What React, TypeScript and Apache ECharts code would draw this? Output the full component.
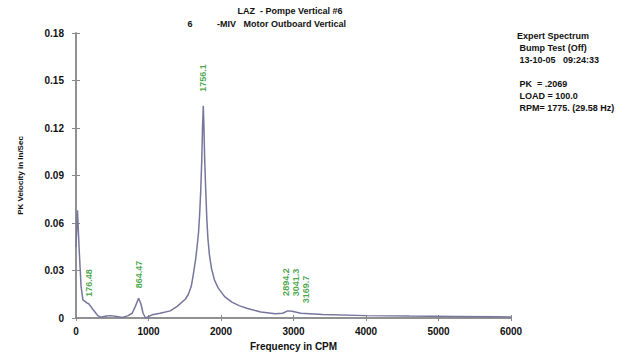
import React, { useEffect, useRef } from "react";
import * as echarts from "echarts";

// Spectrum data (frequency in CPM, PK velocity in In/Sec)
const freqCPM = [
  0, 20, 45, 70, 95, 150, 176, 240, 300, 340, 420, 480, 560, 640, 720, 775, 820, 864, 895, 925, 960,
  1050, 1160, 1300, 1400, 1510, 1550, 1590, 1620, 1650, 1670, 1690, 1705, 1720, 1735, 1745, 1756,
  1765, 1775, 1790, 1805, 1820, 1840, 1870, 1910, 1960, 2050, 2150, 2250, 2365, 2550, 2750, 2850,
  2920, 2980, 3100, 3400, 4000, 4600, 5200, 5800, 6000,
];
const velocity = [
  0.045, 0.068, 0.042, 0.02, 0.0115, 0.0095, 0.009, 0.005, 0.0015, 0.0005, 0.0012, 0.0015, 0.001,
  0.0003, 0.0015, 0.003, 0.0075, 0.0125, 0.009, 0.003, 0.0, 0.002, 0.003, 0.0045, 0.0075, 0.012,
  0.015, 0.02, 0.028, 0.037, 0.045, 0.054, 0.065, 0.08, 0.1, 0.12, 0.134,
  0.12, 0.1, 0.08, 0.062, 0.05, 0.04, 0.031, 0.024, 0.019, 0.0135, 0.01, 0.0078, 0.006, 0.0038,
  0.0027, 0.003, 0.0045, 0.0042, 0.003, 0.0022, 0.0015, 0.0012, 0.001, 0.0008, 0.0006,
];

// Labelled peaks
const peakFreq = [176.48, 864.47, 1756.1, 2894.2, 3041.3, 3169.7];
const peakVel = [0.009, 0.0125, 0.134, 0.0045, 0.0042, 0.003];
const peakLabels = ["176.48", "864.47", "1756.1", "2894.2", "3041.3", "3169.7"];

// Axis ticks
const xTicks = [0, 1000, 2000, 3000, 4000, 5000, 6000];
const yTicks = [0, 0.03, 0.06, 0.09, 0.12, 0.15, 0.18];

// Header / info texts
const titleLine1 = "LAZ  - Pompe Vertical #6";
const titleNum = "6";
const titleLine2 = "-MIV   Motor Outboard Vertical";
const infoLines = ["Expert Spectrum", " Bump Test (Off)", " 13-10-05   09:24:33", "", " PK  = .2069", " LOAD = 100.0", " RPM= 1775. (29.58 Hz)"];

// style-only constants
const labelGaps = [7, 10, 14, 15, 15, 10];
const FONT = '"Liberation Sans", Arial, sans-serif';
const AXIS_COLOR = "#8a8a8a";
const LINE_COLOR = "#76769c";
const GREEN = "#1a8f1a";

export default function App() {
  const ref = useRef<HTMLDivElement>(null);

  useEffect(() => {
    if (!ref.current) return;
    const chart = echarts.init(ref.current, undefined, { renderer: "svg" });

    const axisLine = { show: true, lineStyle: { color: AXIS_COLOR, width: 1.5 } };
    const tickStyle = { lineStyle: { color: AXIS_COLOR, width: 1 } };

    const option: any = {
      animation: false,
      backgroundColor: "#ffffff",
      grid: { left: 76, right: 125, top: 33, bottom: 34 },
      xAxis: [
        {
          type: "value",
          min: xTicks[0],
          max: xTicks[xTicks.length - 1],
          interval: xTicks[1] - xTicks[0],
          position: "bottom",
          name: "Frequency in CPM",
          nameLocation: "middle",
          nameGap: 23,
          nameTextStyle: { fontFamily: FONT, fontWeight: "bold", fontSize: 10, color: "#111" },
          axisLine,
          axisTick: { show: true, inside: true, length: 3, ...tickStyle },
          axisLabel: {
            fontFamily: FONT,
            fontWeight: "bold",
            fontSize: 10,
            color: "#111",
            margin: 8,
            formatter: (v: number) => String(v),
          },
          splitLine: { show: false },
        },
        {
          type: "value",
          min: xTicks[0],
          max: xTicks[xTicks.length - 1],
          interval: xTicks[1] - xTicks[0],
          position: "top",
          axisLine,
          axisTick: { show: true, inside: true, length: 3, ...tickStyle },
          axisLabel: { show: false },
          splitLine: { show: false },
        },
      ],
      yAxis: [
        {
          type: "value",
          min: yTicks[0],
          max: yTicks[yTicks.length - 1],
          interval: yTicks[1] - yTicks[0],
          position: "left",
          name: "PK Velocity in In/Sec",
          nameLocation: "middle",
          nameGap: 52,
          nameTextStyle: { fontFamily: FONT, fontWeight: "bold", fontSize: 8, color: "#111" },
          axisLine,
          axisTick: { show: true, inside: false, length: 4, ...tickStyle },
          axisLabel: {
            fontFamily: FONT,
            fontWeight: "bold",
            fontSize: 10,
            color: "#111",
            margin: 12,
            formatter: (v: number) => (v === 0 ? "0" : v.toFixed(2)),
          },
          splitLine: { show: false },
        },
        {
          type: "value",
          min: yTicks[0],
          max: yTicks[yTicks.length - 1],
          interval: yTicks[1] - yTicks[0],
          position: "right",
          axisLine,
          axisTick: { show: true, inside: false, length: 4, ...tickStyle },
          axisLabel: { show: false },
          splitLine: { show: false },
        },
      ],
      series: [
        {
          type: "line",
          data: freqCPM.map((f, i) => [f, velocity[i]]),
          showSymbol: false,
          symbol: "none",
          lineStyle: { color: LINE_COLOR, width: 1.5 },
          z: 3,
        },
        {
          type: "scatter",
          symbolSize: 0,
          data: peakFreq.map((f, i) => ({
            value: [f, peakVel[i]],
            label: {
              show: true,
              formatter: peakLabels[i],
              position: "top",
              distance: labelGaps[i],
              rotate: 90,
              align: "left",
              verticalAlign: "middle",
              fontFamily: FONT,
              fontWeight: "bold",
              fontSize: 9,
              color: GREEN,
            },
          })),
          z: 4,
        },
      ],
      graphic: [
        {
          type: "text",
          x: 290,
          y: 11,
          style: { text: titleLine1, font: `bold 9px ${FONT}`, fill: "#111", textAlign: "center", textVerticalAlign: "middle" },
        },
        {
          type: "text",
          x: 190,
          y: 24,
          style: { text: titleNum, font: `bold 9px ${FONT}`, fill: "#111", textAlign: "center", textVerticalAlign: "middle" },
        },
        {
          type: "text",
          x: 217,
          y: 24,
          style: { text: titleLine2, font: `bold 9px ${FONT}`, fill: "#111", textAlign: "left", textVerticalAlign: "middle" },
        },
        ...infoLines.map((t, i) => ({
          type: "text",
          x: 517,
          y: 36 + i * 12,
          style: { text: t, font: `bold 9px ${FONT}`, fill: "#111", textAlign: "left", textVerticalAlign: "middle" },
        })),
      ],
    };

    chart.setOption(option);
    return () => chart.dispose();
  }, []);

  return (
    <div
      ref={ref}
      style={{ position: "absolute", left: 0, top: 0, width: 636, height: 356, background: "#fff" }}
    />
  );
}
